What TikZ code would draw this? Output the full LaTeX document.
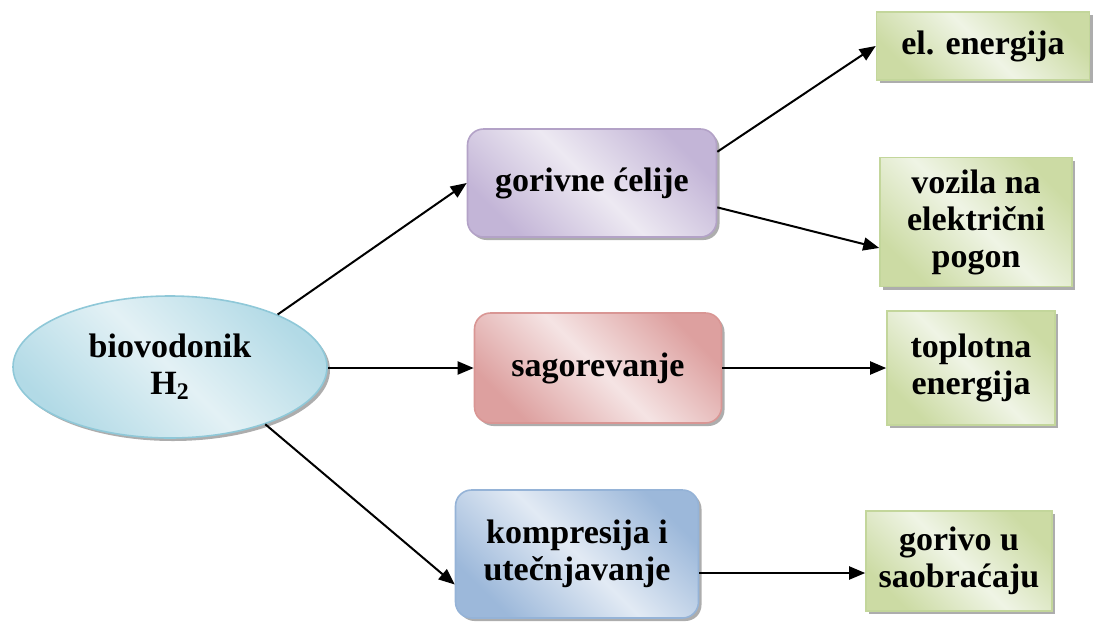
\documentclass[tikz,border=0pt]{standalone}
\usepackage{fontspec}
\setmainfont{Liberation Serif}
\usetikzlibrary{arrows.meta, positioning, shapes.geometric, shadows}

\definecolor{cyanedge}{HTML}{8FC8D8}
\definecolor{cyandark}{HTML}{B2DAE6}
\definecolor{cyanlight}{HTML}{E3F1F5}
\definecolor{violetedge}{HTML}{B3A2C7}
\definecolor{violetdark}{HTML}{C3B5D7}
\definecolor{violetlight}{HTML}{EDE9F2}
\definecolor{rededge}{HTML}{D99694}
\definecolor{reddark}{HTML}{DDA09F}
\definecolor{redlight}{HTML}{F5E4E4}
\definecolor{blueedge}{HTML}{95B3D7}
\definecolor{bluedark}{HTML}{9CB8DA}
\definecolor{bluelight}{HTML}{E2EAF4}
\definecolor{greenedge}{HTML}{C3D69B}
\definecolor{greendark}{HTML}{CCDBA4}
\definecolor{greenlight}{HTML}{EFF4E5}

\begin{document}
\begin{tikzpicture}[
        x = 0.5pt, y = -0.5pt,
        >= {Triangle[length = 8pt, width = 6.5pt]},
        every node/.style = {font = \fontsize{17}{18.5}\selectfont\bfseries, align = center, inner sep = 0pt},
        thinshadow/.style = {drop shadow = {shadow xshift = 1.5pt, shadow yshift = -1.5pt, fill = black!40, opacity = 0.8}},
        source/.style = {ellipse, draw = cyanedge, thick, thinshadow,
                         left color = cyandark, right color = cyandark, middle color = cyanlight, shading angle = 135},
        process/.style 2 args = {rectangle, rounded corners = 8pt, draw = #1, thick, thinshadow,
                         left color = #2dark, right color = #2dark, middle color = #2light, shading angle = 135},
        usage/.style = {rectangle, draw = greenedge, thick, thinshadow,
                         left color = greendark, right color = greendark, middle color = greenlight, shading angle = 135},
        link/.style = {->, line width = 1pt}
    ]

    \useasboundingbox (0,0) rectangle (1108,622);

    % source
    \node[source, minimum width = 157pt, minimum height = 71pt] (h2) at (170,367) {biovodonik\\H\textsubscript{2}};

    % processes
    \node[process = {violetedge}{violet}, minimum width = 124.5pt, minimum height = 54pt] (celije) at (592,183) {gorivne ćelije};
    \node[process = {rededge}{red}, minimum width = 123.5pt, minimum height = 55pt] (sagor) at (598,368) {sagorevanje};
    \node[process = {blueedge}{blue}, minimum width = 121.5pt, minimum height = 64pt] (kompr) at (577,554) {kompresija i\\utečnjavanje};

    % usages
    \node[usage, minimum width = 106.5pt, minimum height = 34pt] (elen) at (983,46) {el. energija};
    \node[usage, minimum width = 96pt, minimum height = 64.5pt] (vozila) at (976,222) {vozila na\\električni\\pogon};
    \node[usage, minimum width = 84pt, minimum height = 57pt] (toplo) at (971,368) {toplotna\\energija};
    \node[usage, minimum width = 93pt, minimum height = 50pt] (gorivo) at (959,561) {gorivo u\\saobraćaju};

    \draw[link] (h2.26) -- (celije.west);
    \draw[link] (h2.east |- sagor.west) -- (sagor.west);
    \draw[link] (h2.-31) -- (kompr.194);

    \draw[link] (celije.14) -- (elen.west);
    \draw[link] (celije.-11) -- (vozila.195);
    \draw[link] (sagor.east) -- (toplo.west);
    \draw[link] ([yshift = -9.5pt]kompr.east) -- ([yshift = -9.5pt]kompr.east -| gorivo.west);

\end{tikzpicture}
\end{document}
